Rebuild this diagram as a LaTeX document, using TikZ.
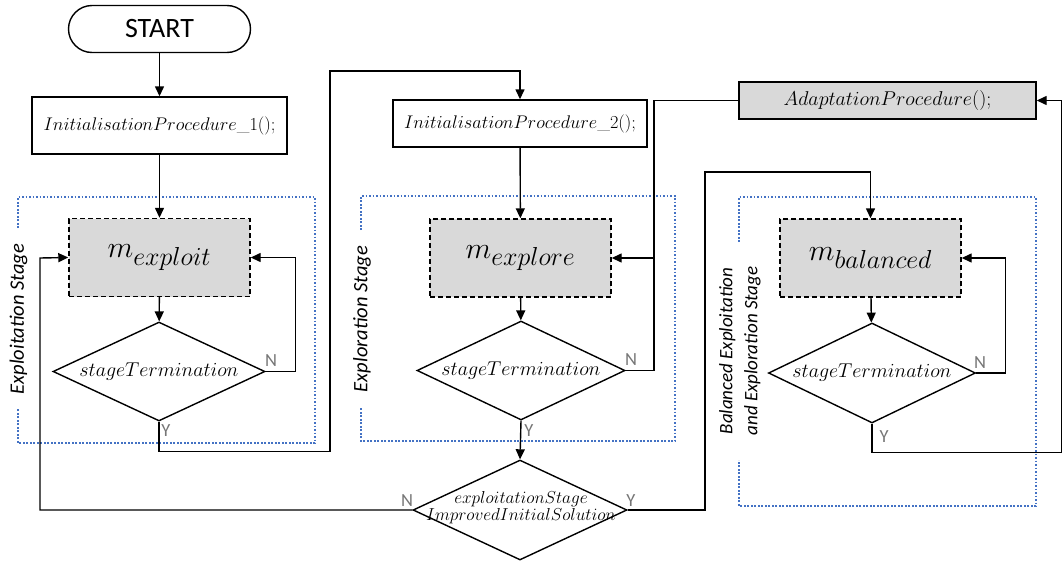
\RequirePackage{fix-cm}
\documentclass[tikz,border=0pt]{standalone}
\usepackage{fontspec}
\newfontfamily\carl{Carlito}
\usetikzlibrary{arrows.meta,shapes.geometric,calc}
\definecolor{grayfill}{HTML}{D9D9D9}
\definecolor{dotblue}{HTML}{4472C4}
\definecolor{lblgray}{HTML}{767676}
\newcommand\msub[2]{\fontsize{30}{32}\selectfont$m_{\mbox{\fontsize{#1}{#1}\selectfont$#2$}}$}
\tikzset{
  conn/.style={draw=black, line width=1.4pt},
  arr/.style={conn, -{Triangle[length=10pt,width=9pt]}},
  procbox/.style={draw=black, line width=1.4pt, rectangle, inner sep=0pt},
  mstage/.style={draw=black, line width=1.4pt, dashed, dash pattern=on 5pt off 3pt, fill=grayfill, rectangle, inner sep=0pt, minimum width=181pt, minimum height=78pt},
  decision/.style={draw=black, line width=1.4pt, diamond, inner sep=0pt},
  dotbox/.style={draw=dotblue, line width=2.2pt, dash pattern=on 1.6pt off 1.9pt},
  yn/.style={font=\carl\fontsize{18.5}{18.5}\selectfont, text=lblgray, inner sep=0pt},
  stagelbl/.style={font=\carl\itshape\fontsize{#1}{25}\selectfont, rotate=90, inner sep=0pt, align=center},
  mathtxt/.style={font=\fontsize{#1}{#1}\selectfont},
}
\begin{document}
\begin{tikzpicture}[x=1pt,y=-1pt]
\useasboundingbox (0,0) rectangle (1063,562);

% dotted stage frames
\draw[dotbox] (18,228) -- (18,197) -- (315,197) -- (315,443) -- (18,443) -- (18,408);
\draw[dotbox] (361,230) -- (361,196) -- (675,196) -- (675,441) -- (361,441) -- (361,407);
\draw[dotbox] (739,242) -- (739,197) -- (1036,197) -- (1036,506) -- (739,506) -- (739,460);

\node[stagelbl=20.5] (s1) at (18.5,319) {Exploitation Stage};
\node[stagelbl=20.5] (s2) at (362,319) {Exploration Stage};
\node[stagelbl=19] (s3) at (740,351) {Balanced Exploitation\\and Exploration Stage};

% nodes
\node[draw=black, line width=1.4pt, rounded corners=23.5pt, minimum width=182pt, minimum height=47pt, inner sep=0pt,
      font=\carl\fontsize{28}{28}\selectfont] (start) at (159.5,29) {START};
\node[procbox, minimum width=255pt, minimum height=57pt, mathtxt=18.3] (init1) at (159.5,125.5) {$InitialisationProcedure\_1();$};
\node[mstage] (mexploit) at (159.5,257.5) {\msub{26}{exploit}};
\node[decision, minimum width=212pt, minimum height=99pt,
      label={[mathtxt=20]center:$stageTermination$}] (d1) at (159,371.5) {};

\node[procbox, minimum width=254pt, minimum height=47pt, mathtxt=18.3] (init2) at (520,123.5) {$InitialisationProcedure\_2();$};
\node[mstage] (mexplore) at (520.5,258) {\msub{26}{explore}};
\node[decision, minimum width=208pt, minimum height=99pt,
      label={[mathtxt=20]center:$stageTermination$}] (d2) at (521,370.5) {};
\node[decision, minimum width=214pt, minimum height=100pt] (d3) at (520,510) {};
\node[mathtxt=17.3, align=center, inner sep=0pt] (d3txt) at (521,508) {$exploitationStage$\\[0pt]$ImprovedInitialSolution$};

\node[procbox, fill=grayfill, minimum width=297pt, minimum height=37pt, mathtxt=20] (adapt) at (887.5,100.5) {$AdaptationProcedure();$};
\node[mstage] (mbal) at (870.5,258) {\msub{26}{balanced}};
\node[decision, minimum width=207pt, minimum height=100pt,
      label={[mathtxt=20]center:$stageTermination$}] (d4) at (872,373) {};

% junction coordinates
\coordinate (j2) at (654,258);

% connectors
\draw[arr] (start) -- (init1);
\draw[arr] (init1) -- (mexploit);
\draw[arr] (mexploit) -- (d1);
\draw[arr] (d1.east) -- ++(30,0) |- (mexploit.east);
\draw[arr] (d1.south) -- ++(0,30) -| (330,71) -| (init2.north);

\draw[arr] (init2) -- (mexplore);
\draw[arr] (mexplore) -- (d2);
\draw[arr] (d2.east) -| (j2) -- (mexplore.east);
\draw[conn] (adapt.west) -| (j2);
\draw[arr] (d2.south) -- (d3.north);

\draw[arr] (d3.west) -| (40,258) -- (mexploit.west);
\draw[arr] (d3.east) -| (705,172) -| (mbal.north);

\draw[arr] (mbal) -- (d4);
\draw[arr] (d4.east) -- ++(29,0) |- (mbal.east);
\draw[arr] (d4.south) -- ++(0,29) -| (1061.5,100.5) -- (adapt.east);

% Y/N labels
\node[yn] (n1) at (271,361) {N};
\node[yn] (y1) at (166,431) {Y};
\node[yn] (n2) at (631,360) {N};
\node[yn] (y2) at (529,431) {Y};
\node[yn] (n3) at (407,501) {N};
\node[yn] (y3) at (631,501) {Y};
\node[yn] (n4) at (980,363) {N};
\node[yn] (y4) at (884,437) {Y};
\end{tikzpicture}
\end{document}
